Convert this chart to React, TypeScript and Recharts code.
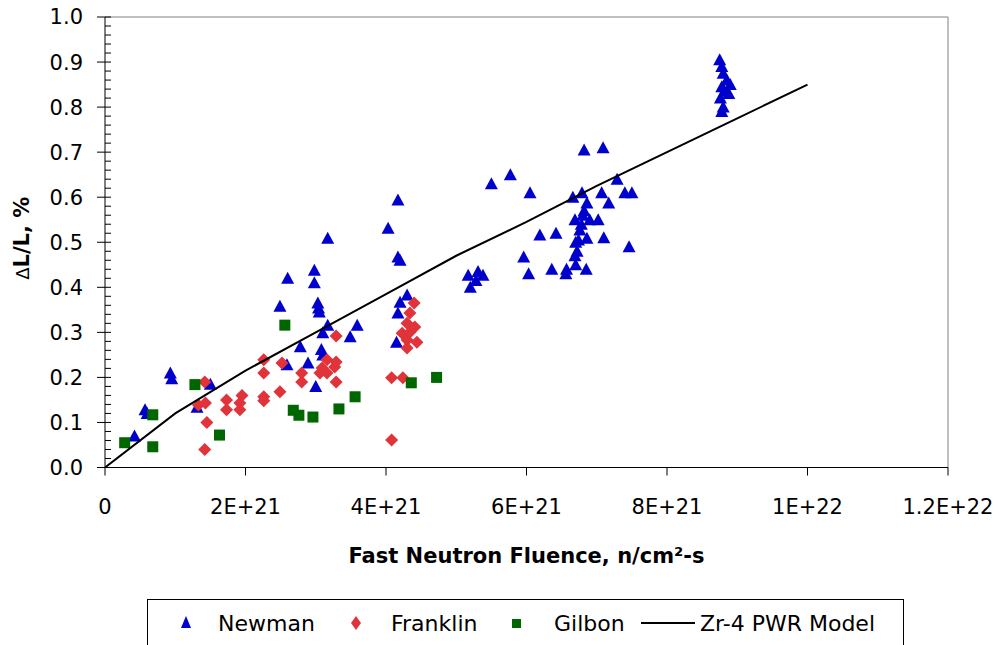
import React from 'react';
import { ScatterChart, Scatter, XAxis, YAxis, ReferenceLine, Legend, Label } from 'recharts';

// fluence in units of 1E21 n/cm2, growth in %
const newmanFluence = [
  0.42, 0.57, 0.6, 0.93, 0.95, 1.31, 1.5, 2.49, 2.59, 2.6, 2.78, 2.89, 2.98, 2.98, 3.0, 3.03, 3.04, 3.05, 3.08,
  3.1, 3.1, 3.17, 3.17, 3.49, 3.59, 4.03, 4.15, 4.17, 4.17, 4.2, 4.17, 4.2, 4.3, 5.17, 5.2, 5.28, 5.31, 5.38, 5.5,
  5.77, 5.96, 6.03, 6.05, 6.19, 6.36, 6.42, 6.56, 6.57, 6.66, 6.69, 6.69, 6.7, 6.7, 6.72, 6.74, 6.76, 6.78, 6.79,
  6.8, 6.82, 6.82, 6.85, 6.86, 6.86, 6.9, 7.02, 7.07, 7.09, 7.1, 7.17, 7.29, 7.4, 7.46, 7.5, 8.75, 8.78, 8.8,
  8.85, 8.9, 8.78, 8.82, 8.88, 8.76, 8.8, 8.78,
];
const newmanGrowth = [
  0.07, 0.128, 0.12, 0.21, 0.197, 0.134, 0.185, 0.358, 0.228, 0.42, 0.268, 0.232, 0.438, 0.41, 0.18, 0.365, 0.354,
  0.345, 0.262, 0.25, 0.299, 0.316, 0.509, 0.29, 0.316, 0.531, 0.278, 0.594, 0.467, 0.46, 0.343, 0.367, 0.383,
  0.427, 0.4, 0.415, 0.435, 0.427, 0.63, 0.65, 0.467, 0.43, 0.61, 0.516, 0.44, 0.52, 0.43, 0.44, 0.6, 0.55, 0.47,
  0.45, 0.5, 0.48, 0.505, 0.527, 0.54, 0.61, 0.56, 0.705, 0.57, 0.44, 0.587, 0.509, 0.55, 0.55, 0.61, 0.71, 0.51,
  0.587, 0.64, 0.61, 0.49, 0.61, 0.905, 0.89, 0.875, 0.86, 0.85, 0.845, 0.835, 0.83, 0.82, 0.8, 0.79,
];

const franklinFluence = [
  1.42, 1.45, 1.33, 1.43, 1.42, 1.73, 1.73, 1.95, 1.92, 1.92, 2.26, 2.26, 2.26, 2.26, 2.49, 2.52, 2.8, 2.8, 3.06,
  3.09, 3.16, 3.16, 3.27, 3.29, 3.29, 3.29, 4.08, 4.08, 4.24, 4.23, 4.3, 4.3, 4.3, 4.34, 4.34, 4.4, 4.41, 4.44,
];
const franklinGrowth = [
  0.04, 0.1, 0.139, 0.143, 0.19, 0.15, 0.128, 0.16, 0.143, 0.128, 0.239, 0.21, 0.157, 0.148, 0.168, 0.232, 0.21,
  0.19, 0.21, 0.221, 0.239, 0.21, 0.223, 0.234, 0.19, 0.292, 0.061, 0.199, 0.199, 0.298, 0.32, 0.283, 0.265, 0.3,
  0.343, 0.365, 0.312, 0.278,
];

const gilbonFluence = [0.28, 0.68, 0.68, 1.28, 1.63, 2.56, 2.68, 2.76, 2.96, 3.33, 3.56, 4.36, 4.72];
const gilbonGrowth = [0.055, 0.117, 0.046, 0.184, 0.072, 0.316, 0.127, 0.116, 0.112, 0.13, 0.157, 0.188, 0.2];

const modelFluence = [0, 1, 2, 3, 4, 5, 6, 7, 8, 9, 10];
const modelGrowth = [0, 0.12, 0.215, 0.3, 0.385, 0.47, 0.545, 0.625, 0.7, 0.775, 0.85];

const xTicks = [0, 2, 4, 6, 8, 10, 12];
const yTicks = [0, 0.1, 0.2, 0.3, 0.4, 0.5, 0.6, 0.7, 0.8, 0.9, 1.0];
const xMinorTicks = Array.from({ length: 31 }, (_, i) => i * 0.4);
const yMinorTicks = Array.from({ length: 51 }, (_, i) => i * 0.02);

const zip = (xs: number[], ys: number[]) => xs.map((x, i) => ({ x, y: ys[i] }));
const newman = zip(newmanFluence, newmanGrowth);
const franklin = zip(franklinFluence, franklinGrowth);
const gilbon = zip(gilbonFluence, gilbonGrowth);
const model = zip(modelFluence, modelGrowth);

const BLUE = '#0000CC';
const RED = '#E0333A';
const GREEN = '#006600';
const FONT = 'DejaVu Sans';

const fmtX = (v: number) => (v === 0 ? '0' : (v * 1e21).toExponential().toUpperCase());
const fmtY = (v: number) => v.toFixed(1);

const Triangle = ({ cx, cy }: any) => (
  <polygon points={`${cx},${cy - 6.5} ${cx - 6.5},${cy + 5.5} ${cx + 6.5},${cy + 5.5}`} fill={BLUE} />
);
const Diamond = ({ cx, cy }: any) => (
  <polygon points={`${cx},${cy - 6.5} ${cx + 6.5},${cy} ${cx},${cy + 6.5} ${cx - 6.5},${cy}`} fill={RED} />
);
const Square = ({ cx, cy }: any) => <rect x={cx - 5.5} y={cy - 5.5} width={11} height={11} fill={GREEN} />;
const NoDot = () => <g />;
const NoTick = () => <g />;

const YTitle = ({ viewBox }: any) => {
  const x = viewBox.x + 22;
  const y = viewBox.y + viewBox.height / 2 - 4;
  return (
    <text x={x} y={y} transform={`rotate(-90 ${x} ${y})`} textAnchor="middle" dominantBaseline="central"
      fontFamily={FONT} fontWeight="bold" fontSize={21} fill="#000">
      <tspan fontWeight="normal" fontSize={18}>Δ</tspan>L/L, %
    </text>
  );
};

const XTitle = ({ viewBox }: any) => (
  <text x={viewBox.x + viewBox.width / 2} y={viewBox.y + 95} textAnchor="middle"
    fontFamily={FONT} fontWeight="bold" fontSize={21} fill="#000">
    Fast Neutron Fluence, n/cm²-s
  </text>
);

const LegendBox = () => {
  const text: React.CSSProperties = { position: 'absolute', top: 9, fontSize: 22, fontFamily: FONT, color: '#000', lineHeight: '30px' };
  return (
    <div style={{ position: 'relative', width: 757, height: 50, border: '1px solid #000', boxSizing: 'border-box', background: '#fff' }}>
      <svg width={757} height={50} style={{ position: 'absolute', left: -1, top: -1 }}>
        <polygon points="39,17 34,29 44,29" fill={BLUE} />
        <polygon points="209,17 214,24 209,31 204,24" fill={RED} />
        <rect x={365} y={20} width={9} height={9} fill={GREEN} />
        <line x1={494} y1={24} x2={548} y2={24} stroke="#000" strokeWidth={2} />
      </svg>
      <span style={{ ...text, left: 70 }}>Newman</span>
      <span style={{ ...text, left: 243 }}>Franklin</span>
      <span style={{ ...text, left: 406 }}>Gilbon</span>
      <span style={{ ...text, left: 552 }}>Zr-4 PWR Model</span>
    </div>
  );
};

export default function App() {
  const tickStyle = { fill: '#000', fontSize: 21, fontFamily: FONT };
  return (
    <div style={{ position: 'absolute', left: 0, top: 0, width: 1000, height: 645, background: '#fff' }}>
      <ScatterChart width={1000} height={645} margin={{ top: 17, right: 52, bottom: 0, left: 0 }}>
        <XAxis type="number" dataKey="x" domain={[0, 12]} ticks={xTicks} interval={0} tickFormatter={fmtX}
          height={177.5} tickSize={8} tickMargin={24} tick={tickStyle}
          axisLine={{ stroke: '#000' }} tickLine={{ stroke: '#000' }} allowDataOverflow>
          <Label content={XTitle} />
        </XAxis>
        <XAxis xAxisId="minor" type="number" domain={[0, 12]} ticks={xMinorTicks} interval={0} orientation="bottom"
          mirror height={10} tick={NoTick} tickSize={6} axisLine={false} tickLine={{ stroke: '#000' }} allowDataOverflow />
        <YAxis type="number" dataKey="y" domain={[0, 1]} ticks={yTicks} interval={0} tickFormatter={fmtY}
          width={105} tickSize={8} tickMargin={14} tick={tickStyle}
          axisLine={{ stroke: '#000' }} tickLine={{ stroke: '#000' }} allowDataOverflow>
          <Label content={YTitle} />
        </YAxis>
        <YAxis yAxisId="minor" type="number" domain={[0, 1]} ticks={yMinorTicks} interval={0} orientation="left"
          mirror width={10} tick={NoTick} tickSize={6} axisLine={false} tickLine={{ stroke: '#000' }} allowDataOverflow />
        <ReferenceLine y={1} stroke="#808080" />
        <ReferenceLine x={12} stroke="#808080" />
        <Scatter name="Newman" data={newman} shape={Triangle} isAnimationActive={false} />
        <Scatter name="Franklin" data={franklin} shape={Diamond} isAnimationActive={false} />
        <Scatter name="Gilbon" data={gilbon} shape={Square} isAnimationActive={false} />
        <Scatter name="Zr-4 PWR Model" data={model} shape={NoDot} line={{ stroke: '#000', strokeWidth: 2 }}
          fill="none" isAnimationActive={false} />
        <Legend layout="horizontal" verticalAlign="middle" align="center" content={LegendBox}
          wrapperStyle={{ left: 147, top: 599, width: 757, height: 50 }} />
      </ScatterChart>
    </div>
  );
}
